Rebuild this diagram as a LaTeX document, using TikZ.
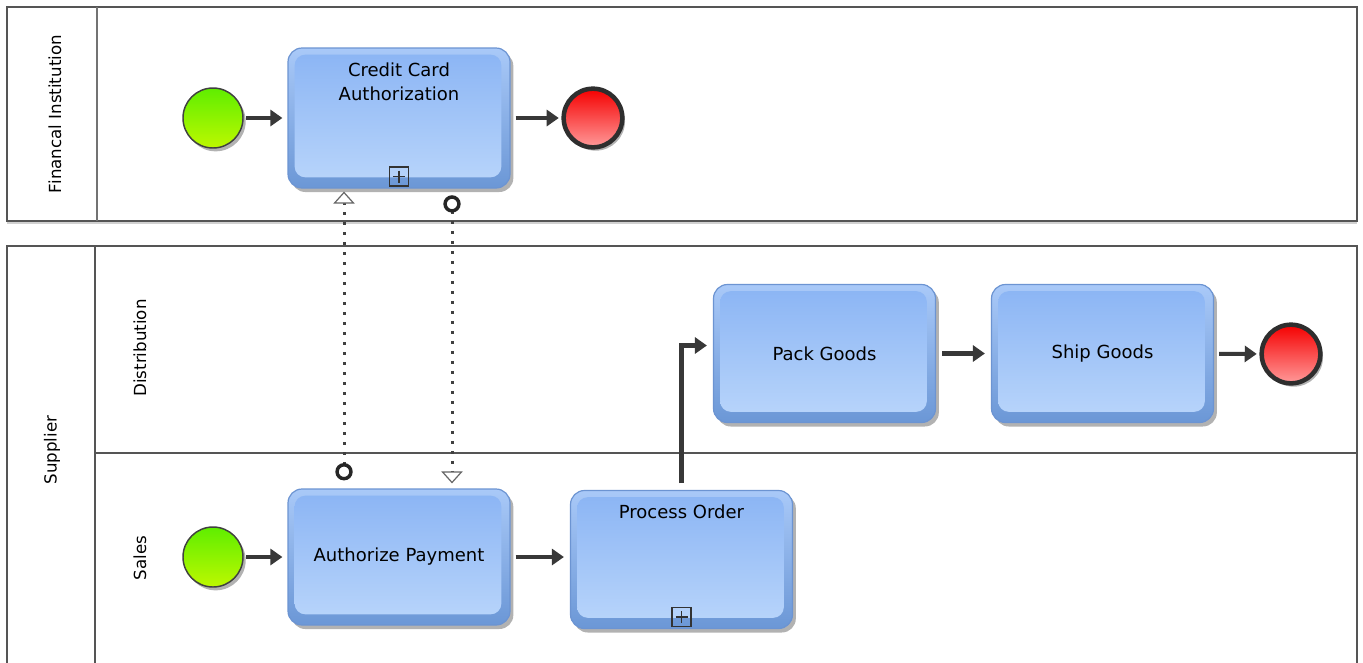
\documentclass[tikz,border=0pt]{standalone}
\usepackage{fontspec}
\setmainfont{DejaVu Sans}
\usetikzlibrary{arrows.meta,shadows}
\definecolor{poolline}{HTML}{555555}
\definecolor{taskborder}{HTML}{6C94D2}
\definecolor{tasktop}{HTML}{8AB4F4}
\definecolor{taskbot}{HTML}{BAD6FB}
\definecolor{ringtop}{HTML}{A9C9F8}
\definecolor{ringbot}{HTML}{6B97D6}
\definecolor{flow}{HTML}{383838}
\definecolor{greentop}{HTML}{5FEE00}
\definecolor{greenbot}{HTML}{BDF800}
\definecolor{redtop}{HTML}{F50000}
\definecolor{redbot}{HTML}{FF9A9A}
\tikzset{
  pool/.style={draw=poolline, line width=1.5pt},
  poollabel/.style={rotate=90, font=\fontsize{12.5}{15}\selectfont, inner sep=0pt},
  task/.style={draw=taskborder, line width=0.9pt, rounded corners=10.5pt,
    minimum width=166.5pt, minimum height=103.5pt,
    top color=ringtop, bottom color=ringbot,
    drop shadow={shadow xshift=2.5pt, shadow yshift=-3pt, opacity=0.3, fill=black},
    font=\fontsize{13.5}{18}\selectfont, align=center,
    path picture={\shade[top color=tasktop, bottom color=taskbot, rounded corners=8pt]
      ([shift={(5pt,-5pt)}]path picture bounding box.north west) rectangle
      ([shift={(-6.5pt,8pt)}]path picture bounding box.south east);}},
  toplabel/.style={label={[anchor=north, yshift=-11pt, font=\fontsize{13.5}{18}\selectfont, align=center, inner sep=0pt]north:#1}},
  plusbox/.style={draw=black!80, line width=1.1pt, minimum size=14pt, inner sep=0pt, anchor=south,
    path picture={\draw[black!80, line width=1pt]
      ([yshift=-2.5pt]path picture bounding box.north) -- ([yshift=2.5pt]path picture bounding box.south)
      ([xshift=2.5pt]path picture bounding box.west) -- ([xshift=-2.5pt]path picture bounding box.east);}},
  startev/.style={circle, draw=black!75, line width=1.1pt, minimum size=45pt, inner sep=0pt,
    top color=greentop, bottom color=greenbot,
    drop shadow={shadow xshift=2pt, shadow yshift=-2.5pt, opacity=0.3, fill=black}},
  endev/.style={circle, draw=black!82, line width=3.4pt, minimum size=44pt, inner sep=0pt,
    top color=redtop, bottom color=redbot,
    drop shadow={shadow xshift=2pt, shadow yshift=-2.5pt, opacity=0.3, fill=black}},
  seq/.style={draw=flow, line width=3.1pt, -{Triangle[length=9pt, width=12pt]}},
  msg/.style={draw=black!75, line width=2.25pt, dash pattern=on 2.25pt off 5.25pt,
    {Circle[open, length=13pt, color=black!85, line width=2.6pt]}-{Triangle[color=black!60, fill=white, line width=0.9pt, length=9pt, width=16pt]}}
}
\begin{document}
\begin{tikzpicture}[x=0.75pt, y=-0.75pt]
\useasboundingbox (0,0) rectangle (1363,662);
\fill[white] (0,0) rectangle (1363,662);

% Pool: Financial Institution
\draw[pool, fill=white, drop shadow={shadow xshift=0pt, shadow yshift=-2.5pt, opacity=0.18, fill=black}] (7,7) rectangle (1357,221);
\draw[draw=black!55, line width=1pt] (97,7) -- (97,221);
\node[poollabel] (finlabel) at (55,114) {Financal Institution};

% Pool: Supplier
\draw[pool] (7,700) -- (7,246) -- (1357,246) -- (1357,700);
\draw[pool] (95,246) -- (95,700);
\draw[pool] (95,453) -- (1357,453);
\node[poollabel] (suplabel) at (52,450) {Supplier};
\node[poollabel] (distlabel) at (140,348) {Distribution};
\node[poollabel] (saleslabel) at (140,558) {Sales};

% Financial Institution lane
\node[startev] (fstart) at (213,118) {};
\node[task, minimum height=105pt, toplabel={Credit Card\\Authorization}] (cca) at (399,118) {};
\node[plusbox] (ccaplus) at ([yshift=1.5pt]cca.south) {};
\node[endev] (fend) at (593,118) {};

% Distribution lane
\node[task] (pack) at (824.5,353.5) {Pack Goods};
\node[task] (ship) at (1102.5,353.5) {Ship Goods};
\node[endev] (dend) at (1291,354) {};

% Sales lane
\node[startev] (sstart) at (213,557) {};
\node[task, minimum height=102pt] (ap) at (399,557) {Authorize Payment};
\node[task, toplabel={Process Order}] (po) at (681.5,559.5) {};
\node[plusbox] (poplus) at ([yshift=1.5pt]po.south) {};

% Sequence flows
\draw[seq, shorten <=2pt, shorten >=3.75pt] (fstart) -- (cca);
\draw[seq, shorten <=3.75pt, shorten >=2pt] (cca) -- (fend);
\draw[seq, shorten <=4.5pt, shorten >=4.5pt] (pack) -- (ship);
\draw[seq, shorten <=3.75pt, shorten >=2pt] (ship) -- (dend);
\draw[seq, shorten <=2pt, shorten >=3.75pt] (sstart) -- (ap);
\draw[seq, shorten <=3.75pt, shorten >=4.5pt] (ap.east) -- (po.west |- ap.east);
\draw[seq, shorten <=5pt, shorten >=4.5pt] (po.north) |- ([yshift=6pt]pack.west);

% Message flows
\draw[msg, shorten <=6pt, shorten >=2.25pt] ([xshift=-41.25pt]ap.north) -- ([xshift=-41.25pt]cca.south);
\draw[msg, shorten <=5pt, shorten >=3.75pt] ([xshift=39.75pt]cca.south) -- ([xshift=39.75pt]ap.north);
\end{tikzpicture}
\end{document}
